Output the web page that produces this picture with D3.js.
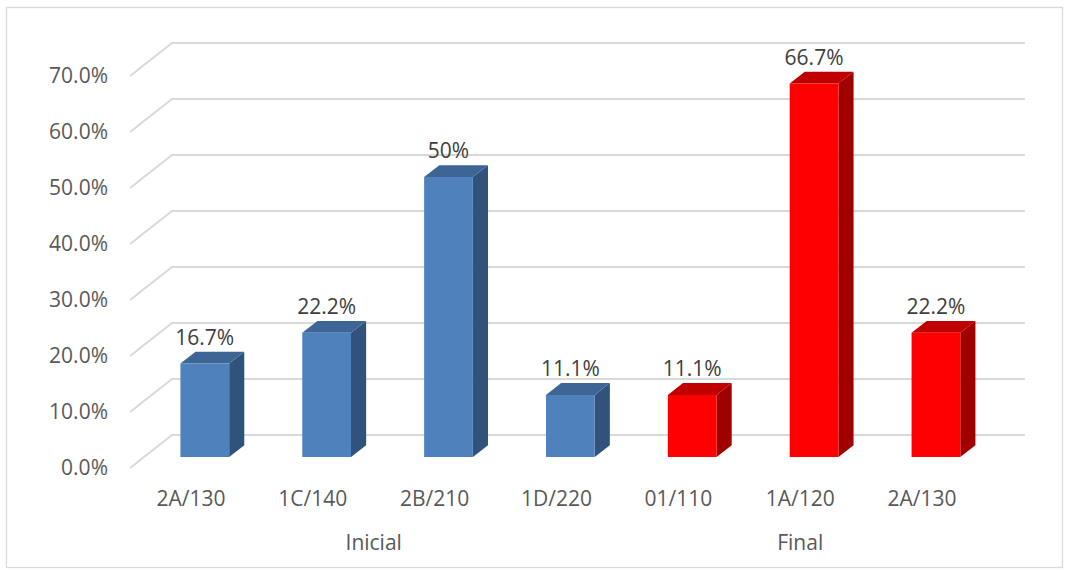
<!DOCTYPE html>
<html><head><meta charset="utf-8">
<script src="https://cdn.jsdelivr.net/npm/d3@7"></script>
<style>body{margin:0;background:#fff}svg{display:block}text{font-family:"Open Sans",sans-serif}</style>
</head><body><svg id="c" width="1070" height="573"></svg>
<script>
const categories = ["2A/130","1C/140","2B/210","1D/220","01/110","1A/120","2A/130"];
const groups = ["Inicial","Inicial","Inicial","Inicial","Final","Final","Final"];
const values = [16.7,22.2,50,11.1,11.1,66.7,22.2];
const valueLabels = ["16.7%","22.2%","50%","11.1%","11.1%","66.7%","22.2%"];
const tickValues = [0,10,20,30,40,50,60,70];
const groupNames = ["Inicial","Final"];

const svg = d3.select("#c");
const FS = 21;
const DX = 42, DY = 33;          // full depth offset
const d0 = 0.33, d1 = 0.69;      // bar depth range
const x = d3.scaleBand().domain(d3.range(categories.length)).range([130, 983]).padding(0);
const y = d3.scaleLinear().domain([0, 70]).range([468, 76]);
const proj = (px, v, d) => [px + d * DX, y(v) - d * DY];

svg.append("rect").attr("x",6.5).attr("y",7.5).attr("width",1056).attr("height",560)
  .attr("fill","none").attr("stroke","#d9d9d9").attr("stroke-width",1.3);

const grid = svg.append("g").attr("stroke","#d9d9d9").attr("stroke-width",2).attr("fill","none");
tickValues.forEach(t => {
  const a = proj(130, t, 0), b = proj(130, t, 1), c = proj(983, t, 1);
  grid.append("path").attr("d", `M${a}L${b}L${c}`);
});

svg.append("g").selectAll("text").data(tickValues).join("text")
  .attr("x", 108).attr("y", d => y(d)).attr("dy","0.35em").attr("text-anchor","end")
  .attr("font-size", FS).attr("fill","#595959").text(d => d3.format(".1%")(d/100));

const colors = {
  Inicial: {front:"#4f81bd", top:"#3d6696", side:"#30527b"},
  Final:   {front:"#ff0000", top:"#c00000", side:"#a00000"}
};
const bw = x.bandwidth() * 0.4;
const bars = svg.append("g");
values.forEach((v, i) => {
  const cx = x(i) + x.bandwidth()/2;
  const xl = cx - bw/2, xr = cx + bw/2;
  const col = colors[groups[i]];
  const pt = (px, vv, d) => proj(px, vv, d).join(",");
  bars.append("path").attr("fill", col.side)
    .attr("d", `M${pt(xr,0,d0)}L${pt(xr,0,d1)}L${pt(xr,v,d1)}L${pt(xr,v,d0)}Z`);
  bars.append("path").attr("fill", col.top)
    .attr("d", `M${pt(xl,v,d0)}L${pt(xl,v,d1)}L${pt(xr,v,d1)}L${pt(xr,v,d0)}Z`);
  bars.append("path").attr("fill", col.front)
    .attr("d", `M${pt(xl,0,d0)}L${pt(xr,0,d0)}L${pt(xr,v,d0)}L${pt(xl,v,d0)}Z`);
  const top = proj(cx, v, d1);
  bars.append("text").attr("x", cx + d0*DX).attr("y", top[1] - 7).attr("text-anchor","middle")
    .attr("font-size", FS).attr("fill","#404040").text(valueLabels[i]);
});

svg.append("g").selectAll("text").data(categories).join("text")
  .attr("x", (d,i) => x(i) + x.bandwidth()/2).attr("y", 498.5).attr("dy","0.35em")
  .attr("text-anchor","middle").attr("font-size",FS).attr("fill","#595959").text(d => d);

groupNames.forEach(g => {
  const idx = d3.range(groups.length).filter(i => groups[i] === g);
  const x0 = x(idx[0]), x1 = x(idx[idx.length-1]) + x.bandwidth();
  svg.append("text").attr("x", (x0+x1)/2).attr("y", 543).attr("dy","0.35em")
    .attr("text-anchor","middle").attr("font-size",FS).attr("fill","#595959").text(g);
});
</script></body></html>
